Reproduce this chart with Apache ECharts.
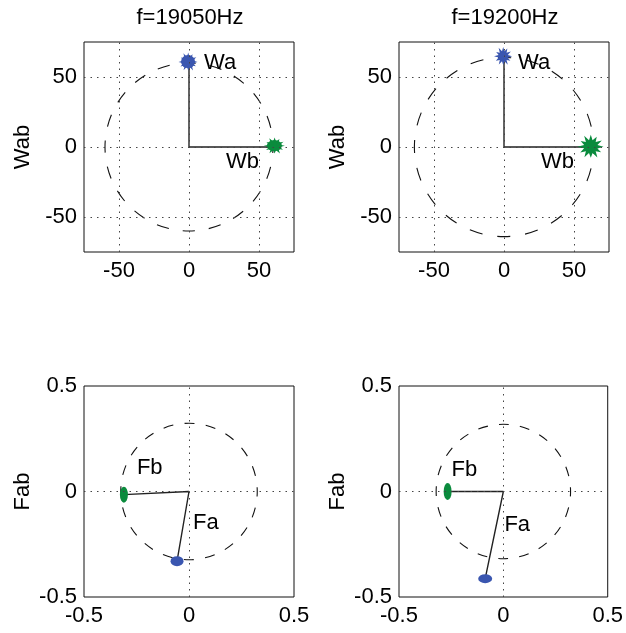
<!DOCTYPE html>
<html><head><meta charset="utf-8">
<script src="https://cdn.jsdelivr.net/npm/echarts@6/dist/echarts.min.js"></script>
<style>html,body{margin:0;padding:0;background:#fff}#c{width:626px;height:633px}</style>
</head><body><div id="c"></div>
<script>
// ---------- data ----------
const titles = ['f=19050Hz', 'f=19200Hz'];
const wTicks = [-50, 0, 50];
const fTicks = [-0.5, 0, 0.5];
const wRange = [-75, 75];
const fRange = [-0.5, 0.5];
const wRadius = [60, 64];
const fRadius = [0.325, 0.322];
const waTip = [[0, 60], [0, 64]];
const wbTip = [[60, 0], [63.5, 0]];
const waCloud = [[-0.7, 61], [-0.7, 65]];
const wbCloud = [[61, 1], [61.8, 0.5]];
const faTip = [[-0.057, -0.33], [-0.087, -0.413]];
const fbTip = [[-0.31, -0.015], [-0.267, 0]];
const waText = [[10.7, 60], [10, 60]];
const wbText = [[26.4, -10.7], [26.4, -10.7]];
const faText = [[0.019, -0.148], [0.005, -0.157]];
const fbText = [[-0.248, 0.114], [-0.248, 0.1]];

// ---------- styles ----------
const FONT = '"Liberation Sans", Arial, Helvetica, sans-serif';
const FS = 22;
const BLUE = '#3a56b0';
const GREEN = '#0a8b3d';
const STAR = 'path://M98 50 L75 57 L89 72.5 L68.4 68.4 L75 93 L56.7 75.1 L50 94 L43.3 75.1 L26 91.6 L31.6 68.4 L10.2 73 L24.9 56.7 L0 50 L24.9 43.3 L11.9 28 L31.6 31.6 L25 6.7 L43.3 24.9 L50 3 L56.7 24.9 L72.5 11 L68.4 31.6 L91.6 26 L75 43.3 Z';

const grids = [
  {left: 84, top: 42, width: 210, height: 210},
  {left: 399, top: 42, width: 210, height: 210},
  {left: 84, top: 386, width: 210, height: 211},
  {left: 399, top: 386, width: 210, height: 211}
].map(g => Object.assign(g, {show: true, borderColor: '#111', borderWidth: 1, backgroundColor: 'transparent'}));

const xAxes = [], yAxes = [], series = [];

function fmt(ticks) {
  return v => ticks.some(t => Math.abs(t - v) < 1e-9) ? String(v) : '';
}

function addPanel(gi, col, isW) {
  const range = isW ? wRange : fRange;
  const ticks = isW ? wTicks : fTicks;
  const interval = isW ? 25 : 0.5;
  const common = {
    gridIndex: gi, type: 'value', min: range[0], max: range[1], interval: interval,
    axisLine: {show: false}, axisTick: {show: false}, splitLine: {show: false}
  };
  xAxes.push(Object.assign({}, common, {
    axisLabel: {fontSize: FS, color: '#000', fontFamily: FONT, margin: 8, formatter: fmt(ticks)}
  }));
  yAxes.push(Object.assign({}, common, {
    name: isW ? 'Wab' : 'Fab', nameLocation: 'middle', nameGap: 50,
    nameTextStyle: {fontSize: FS, color: '#000', fontFamily: FONT},
    axisLabel: {fontSize: FS, color: '#000', fontFamily: FONT, margin: 7, formatter: fmt(ticks)}
  }));
  const inner = ticks.filter(t => t > range[0] && t < range[1]);
  const radius = isW ? wRadius[col] : fRadius[col];
  // dashed reference circle
  series.push({
    type: 'custom', xAxisIndex: gi, yAxisIndex: gi, z: 2, silent: true,
    data: [[0, 0, radius]],
    renderItem: (p, api) => {
      const c = api.coord([api.value(0), api.value(1)]);
      const r = api.size([api.value(2), 0])[0];
      const per = 2 * Math.PI * r / 20;
      return {type: 'circle', shape: {cx: c[0], cy: c[1], r: r},
        style: {fill: 'none', stroke: '#111', lineWidth: 1.1, lineDash: [per * 0.47, per * 0.53], lineDashOffset: per * 0.235}};
    }
  });
  // vectors
  const tipA = isW ? waTip[col] : fbTip[col];
  const tipB = isW ? wbTip[col] : faTip[col];
  series.push({
    type: 'line', xAxisIndex: gi, yAxisIndex: gi, z: 3, silent: true,
    data: [tipA, [0, 0], tipB], symbol: 'none',
    lineStyle: {color: '#222', width: 1.4},
    markLine: {
      silent: true, symbol: ['none', 'none'], label: {show: false}, animation: false,
      lineStyle: {color: '#444', width: 1, type: [1.5, 5]},
      emphasis: {disabled: true},
      data: inner.map(v => ({xAxis: v})).concat(inner.map(v => ({yAxis: v})))
    }
  });
  // clouds
  if (isW) {
    const starSizes = col === 0 ? [[19, 18], [21, 16]] : [[18, 18], [26, 23]];
    const coreSizes = col === 0 ? [[14, 13], [15, 11]] : [[8, 8], [11, 10]];
    [[waCloud[col], BLUE, 0], [wbCloud[col], GREEN, 1]].forEach(([pt, color, k]) => {
      series.push({type: 'scatter', xAxisIndex: gi, yAxisIndex: gi, z: 4, silent: true,
        data: [pt], symbol: STAR, symbolSize: starSizes[k], itemStyle: {color: color, opacity: 1}});
      series.push({type: 'scatter', xAxisIndex: gi, yAxisIndex: gi, z: 4, silent: true,
        data: [pt], symbol: 'circle', symbolSize: coreSizes[k], itemStyle: {color: color, opacity: 1}});
    });
  } else {
    const fbSize = col === 0 ? [8, 16] : [8, 17];
    const faSize = col === 0 ? [13, 10] : [14, 9];
    series.push({type: 'scatter', xAxisIndex: gi, yAxisIndex: gi, z: 4, silent: true,
      data: [fbTip[col]], symbol: 'circle', symbolSize: fbSize, itemStyle: {color: GREEN, opacity: 1}});
    series.push({type: 'scatter', xAxisIndex: gi, yAxisIndex: gi, z: 4, silent: true,
      data: [faTip[col]], symbol: 'circle', symbolSize: faSize, itemStyle: {color: BLUE, opacity: 1}});
  }
  // text labels
  const names = isW ? ['Wa', 'Wb'] : ['Fb', 'Fa'];
  const pos = isW ? [waText[col], wbText[col]] : [fbText[col], faText[col]];
  series.push({
    type: 'custom', xAxisIndex: gi, yAxisIndex: gi, z: 6, silent: true,
    data: pos,
    renderItem: (p, api) => {
      const c = api.coord([api.value(0), api.value(1)]);
      return {type: 'text', x: c[0], y: c[1],
        style: {text: names[p.dataIndex], fill: '#000', font: FS + 'px ' + FONT, align: 'left', verticalAlign: 'middle'}};
    }
  });
}

addPanel(0, 0, true);
addPanel(1, 1, true);
addPanel(2, 0, false);
addPanel(3, 1, false);

const chart = echarts.init(document.getElementById('c'), null, {renderer: 'canvas'});
chart.setOption({
  animation: false,
  backgroundColor: '#fff',
  title: [
    {text: titles[0], left: 190, top: 7, textAlign: 'center', padding: 0, textStyle: {fontSize: FS, fontWeight: 'normal', color: '#000', fontFamily: FONT}},
    {text: titles[1], left: 505, top: 7, textAlign: 'center', padding: 0, textStyle: {fontSize: FS, fontWeight: 'normal', color: '#000', fontFamily: FONT}}
  ],
  grid: grids,
  xAxis: xAxes,
  yAxis: yAxes,
  series: series
});
</script>
</body></html>
